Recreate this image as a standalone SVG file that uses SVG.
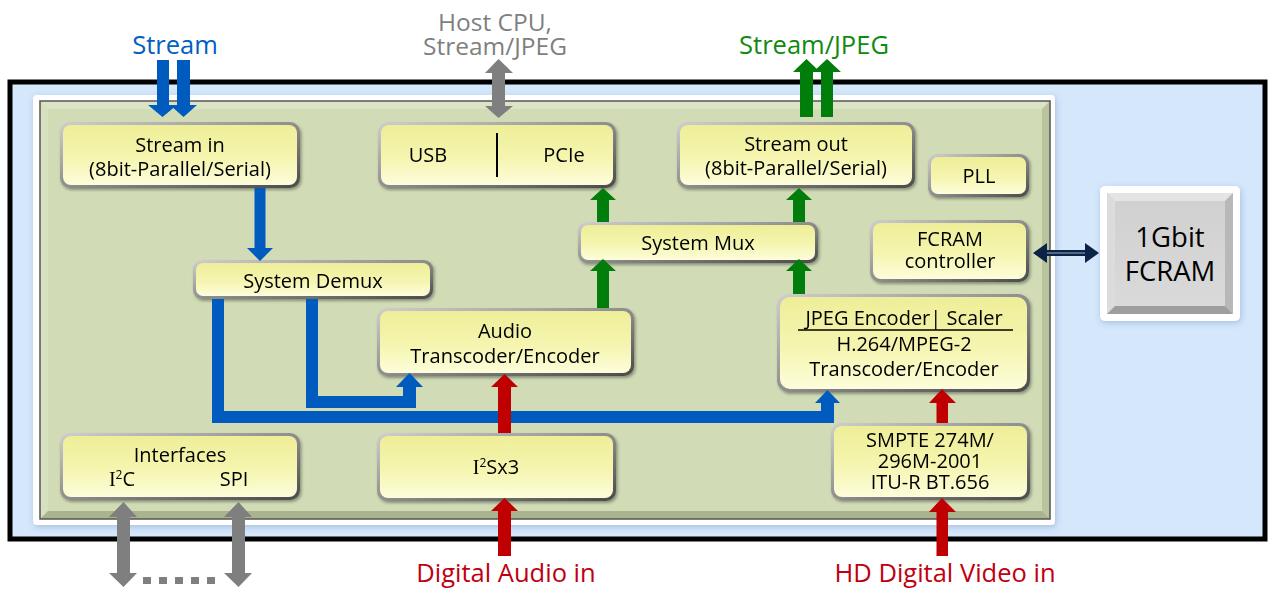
<svg xmlns="http://www.w3.org/2000/svg" width="1272" height="589" viewBox="0 0 1272 589">
<style>
text{font-family:"Open Sans","Noto Sans",sans-serif;fill:#000;text-anchor:middle}
.t{font-size:20px}
.lbl{font-size:25.5px}
.blueT{fill:#0060c0}.greenT{fill:#108a10}.redT{fill:#c00010}.grayT{fill:#7f7f7f;font-size:24.5px}
.rim{fill:url(#rim)}
.face{fill:url(#face)}
.blue{fill:#005bbf}.green{fill:#007d0a}.red{fill:#c00000}.gray{fill:#7f7f7f}.navy{fill:#0a2346}
.serif{font-family:"Liberation Serif",serif}
</style>
<defs>
<linearGradient id="rim" x1="0" y1="0" x2="1" y2="1">
<stop offset="0" stop-color="#cfcfcf"/><stop offset="0.5" stop-color="#8e8e8e"/><stop offset="1" stop-color="#4a4a4a"/>
</linearGradient>
<linearGradient id="face" x1="0" y1="0" x2="0" y2="1">
<stop offset="0" stop-color="#eeee98"/><stop offset="0.55" stop-color="#f5f5b0"/><stop offset="1" stop-color="#fdfddb"/>
</linearGradient>
<linearGradient id="memFace" x1="0" y1="0" x2="0" y2="1">
<stop offset="0" stop-color="#d0d0d0"/><stop offset="1" stop-color="#dadada"/>
</linearGradient>
<filter id="sh" x="-10%" y="-10%" width="125%" height="130%">
<feDropShadow dx="1.5" dy="2" stdDeviation="1.5" flood-color="#000" flood-opacity="0.35"/>
</filter>
<filter id="shSoft" x="-5%" y="-5%" width="110%" height="112%">
<feDropShadow dx="1" dy="2" stdDeviation="3" flood-color="#4060a0" flood-opacity="0.3"/>
</filter>
</defs>

<g id="board">
<rect x="10" y="82" width="1255" height="457" fill="#d4e7fb" stroke="#000" stroke-width="5"/>
<rect x="33" y="95" width="1022" height="430" rx="4" fill="#fff" filter="url(#shSoft)"/>
</g>
<g id="chip">
<rect x="40" y="101" width="1010" height="418" fill="#d1dcb6"/>
<polygon points="40,101 1050,101 1042,109 48,109" fill="#dbe4c5"/>
<polygon points="40,101 48,109 48,511 40,519" fill="#d7e0bf"/>
<polygon points="1050,101 1050,519 1042,511 1042,109" fill="#b9c49e"/>
<polygon points="40,519 1050,519 1042,511 48,511" fill="#a9b48e"/>
<rect x="40" y="101" width="1010" height="418" fill="none" stroke="#555" stroke-width="1.5"/>
</g>

<g id="stream-in" filter="url(#sh)">
<rect class="rim" x="60" y="122" width="240" height="66" rx="10"/>
<rect class="face" x="63" y="125" width="234" height="60" rx="8"/>
<text class="t" x="180" y="152">Stream in</text>
<text class="t" x="180" y="176">(8bit-Parallel/Serial)</text>
</g>
<g id="usb-pcie" filter="url(#sh)">
<rect class="rim" x="378" y="122" width="238" height="66" rx="10"/>
<rect class="face" x="381" y="125" width="232" height="60" rx="8"/>
<line x1="497" y1="133" x2="497" y2="177" stroke="#000" stroke-width="2"/>
<text class="t" x="428" y="162">USB</text>
<text class="t" x="564" y="162">PCIe</text>
</g>
<g id="stream-out" filter="url(#sh)">
<rect class="rim" x="677" y="122" width="238" height="66" rx="10"/>
<rect class="face" x="680" y="125" width="232" height="60" rx="8"/>
<text class="t" x="796" y="151">Stream out</text>
<text class="t" x="796" y="175">(8bit-Parallel/Serial)</text>
</g>
<g id="pll" filter="url(#sh)">
<rect class="rim" x="928" y="154" width="101" height="43" rx="9"/>
<rect class="face" x="931" y="157" width="95" height="37" rx="7"/>
<text class="t" x="979" y="183">PLL</text>
</g>
<g id="fcram-controller" filter="url(#sh)">
<rect class="rim" x="870" y="220" width="159" height="62" rx="10"/>
<rect class="face" x="873" y="223" width="153" height="56" rx="8"/>
<text class="t" x="950" y="246">FCRAM</text>
<text class="t" x="950" y="268">controller</text>
</g>
<g id="system-mux" filter="url(#sh)">
<rect class="rim" x="578" y="222" width="240" height="41" rx="9"/>
<rect class="face" x="581" y="225" width="234" height="35" rx="7"/>
<text class="t" x="698" y="250">System Mux</text>
</g>
<g id="system-demux" filter="url(#sh)">
<rect class="rim" x="193" y="260" width="240" height="39" rx="9"/>
<rect class="face" x="196" y="263" width="234" height="33" rx="7"/>
<text class="t" x="313" y="288">System Demux</text>
</g>
<g id="audio" filter="url(#sh)">
<rect class="rim" x="377" y="308" width="257" height="68" rx="10"/>
<rect class="face" x="380" y="311" width="251" height="62" rx="8"/>
<text class="t" x="505" y="338">Audio</text>
<text class="t" x="505" y="363">Transcoder/Encoder</text>
</g>
<g id="video-codec" filter="url(#sh)">
<rect class="rim" x="777" y="294" width="253" height="98" rx="12"/>
<rect class="face" x="780" y="297" width="247" height="92" rx="10"/>
<text class="t" x="904" y="325">JPEG Encoder| Scaler</text>
<line x1="798" y1="330" x2="1013" y2="330" stroke="#000" stroke-width="1.5"/>
<text class="t" x="904" y="351">H.264/MPEG-2</text>
<text class="t" x="904" y="376">Transcoder/Encoder</text>
</g>
<g id="interfaces" filter="url(#sh)">
<rect class="rim" x="60" y="433" width="240" height="67" rx="10"/>
<rect class="face" x="63" y="436" width="234" height="61" rx="8"/>
<text class="t" x="180" y="462">Interfaces</text>
<text class="t" x="122" y="486"><tspan class="serif">I</tspan><tspan font-size="12" dy="-7">2</tspan><tspan dy="7">C</tspan></text>
<text class="t" x="234" y="486">SPI</text>
</g>
<g id="i2s" filter="url(#sh)">
<rect class="rim" x="377" y="433" width="239" height="68" rx="10"/>
<rect class="face" x="380" y="436" width="233" height="62" rx="8"/>
<text class="t" x="496" y="474"><tspan class="serif">I</tspan><tspan font-size="12" dy="-7">2</tspan><tspan dy="7">Sx3</tspan></text>
</g>
<g id="smpte" filter="url(#sh)">
<rect class="rim" x="831" y="423" width="199" height="77" rx="10"/>
<rect class="face" x="834" y="426" width="193" height="71" rx="8"/>
<text class="t" x="930" y="447">SMPTE 274M/</text>
<text class="t" x="930" y="468">296M-2001</text>
<text class="t" x="930" y="489">ITU-R BT.656</text>
</g>
<g id="fcram-1gbit">
<rect x="1100" y="186" width="140" height="135" rx="5" fill="#fff" filter="url(#shSoft)"/>
<rect x="1107" y="193" width="126" height="121" fill="url(#memFace)"/>
<polygon points="1107,193 1233,193 1225,201 1115,201" fill="#e4e4e4"/>
<polygon points="1107,193 1115,201 1115,306 1107,314" fill="#dcdcdc"/>
<polygon points="1233,193 1233,314 1225,306 1225,201" fill="#b8b8b8"/>
<polygon points="1107,314 1233,314 1225,306 1115,306" fill="#9e9e9e"/>
<text x="1170" y="247" font-size="27.5">1Gbit</text>
<text x="1170" y="281" font-size="27.5">FCRAM</text>
</g>

<g id="labels">
<text class="lbl blueT" x="175" y="54">Stream</text>
<text class="lbl grayT" x="495" y="31">Host CPU,</text>
<text class="lbl grayT" x="495" y="55">Stream/JPEG</text>
<text class="lbl greenT" x="814" y="54">Stream/JPEG</text>
<text class="lbl redT" x="506" y="582">Digital Audio in</text>
<text class="lbl redT" x="945" y="582">HD Digital Video in</text>
</g>

<g id="connectors">
<polygon class="blue" points="157,60 169,60 169,105 177,105 162.5,117 148,105 157,105"/>
<polygon class="blue" points="177,60 190,60 190,105 197,105 183.5,117 170,105 177,105"/>
<polygon class="blue" points="254.5,188 265.5,188 265.5,248 273,248 260,261 247,248 254.5,248"/>
<polygon class="blue" points="306,299 318,299 318,396 403,396 403,387 396,387 409.5,373 423,387 416,387 416,408 306,408"/>
<polygon class="blue" points="212,299 224,299 224,411 821,411 821,403 815,403 827.5,390 840,403 834,403 834,423 212,423"/>
<polygon class="green" points="597,222 609,222 609,200 616,200 603,188 590,200 597,200"/>
<polygon class="green" points="597,308 609,308 609,271 616,271 603,259 590,271 597,271"/>
<polygon class="green" points="793,222 805,222 805,200 812,200 799,188 786,200 793,200"/>
<polygon class="green" points="793,294 805,294 805,271 812,271 799,259 786,271 793,271"/>
<polygon class="green" points="800,117 813,117 813,72 820,72 806.5,59 793,72 800,72"/>
<polygon class="green" points="821,117 833,117 833,72 841,72 827,59 813,72 821,72"/>
<polygon class="red" points="498,433 511,433 511,387 518,387 504.5,374 491,387 498,387"/>
<polygon class="red" points="498,556 511,556 511,511 518,511 504.5,498 491,511 498,511"/>
<polygon class="red" points="936.5,423 948,423 948,403 956,403 942,389 929,403 936.5,403"/>
<polygon class="red" points="936.5,556 948,556 948,512 956,512 942,498 929,512 936.5,512"/>
<polygon class="gray" points="498.5,59 513,73 505,73 505,106 513,106 498.5,118 485,106 492,106 492,73 485,73"/>
<polygon class="gray" points="123.5,502 137,517 130,517 130,573 137,573 123.5,587 109,573 117,573 117,517 109,517"/>
<polygon class="gray" points="238.5,502 252,517 245,517 245,573 252,573 238.5,587 224,573 232,573 232,517 224,517"/>
<line x1="143" y1="580.5" x2="216" y2="580.5" stroke="#7f7f7f" stroke-width="7" stroke-dasharray="8 8"/>
<polygon class="navy" points="1033,253 1047,243 1047,250 1085,250 1085,243 1099,253 1085,263 1085,256 1047,256 1047,263"/>
<line x1="1047" y1="253" x2="1085" y2="253" stroke="#6f7f96" stroke-width="1.5"/>
</g>
</svg>
